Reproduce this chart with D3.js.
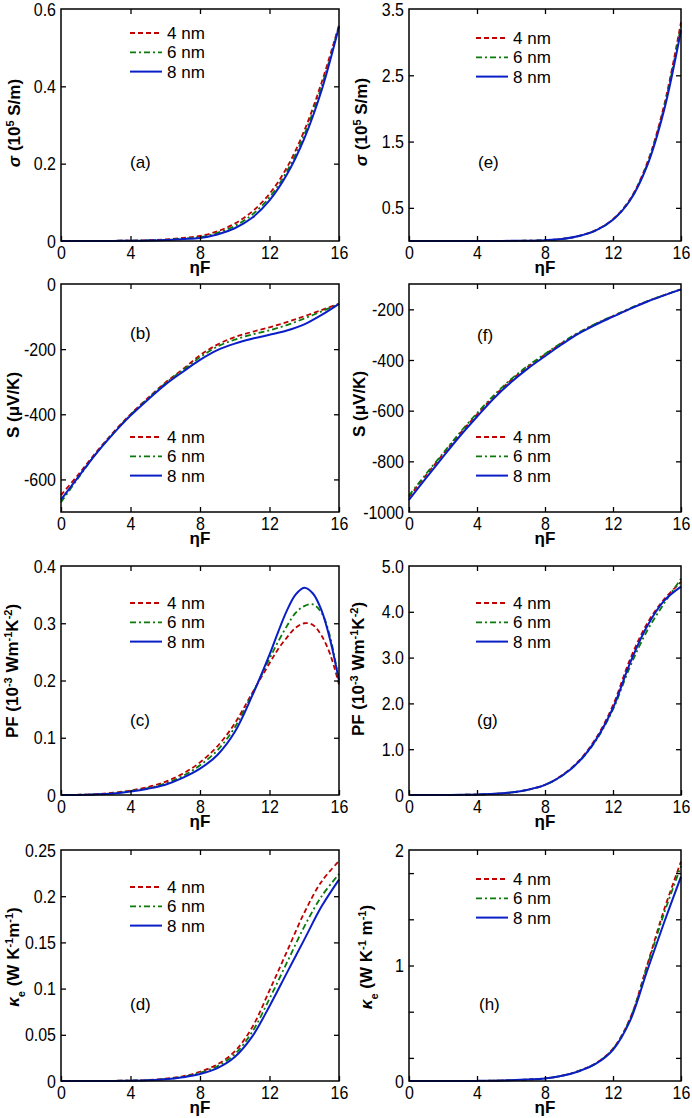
<!DOCTYPE html>
<html>
<head>
<meta charset="utf-8">
<script src="https://cdn.jsdelivr.net/npm/d3@7"></script>
<style>
  body { margin: 0; background: #fff; }
  text { font-family: 'Liberation Sans', Arial, sans-serif; }
</style>
</head>
<body>
<svg id="chart" width="692" height="1118"></svg>
<script>
'use strict';
// x values (reduced Fermi energy)
var eta = [0, 1, 2, 3, 4, 5, 6, 7, 8, 9, 10, 11, 12, 13, 14, 15, 16];
var etaPF = [0, 1, 2, 3, 4, 5, 6, 7, 8, 9, 10, 11, 12, 12.5, 13, 13.5, 14, 14.5, 15, 15.5, 16];
var etaTicks = [0, 4, 8, 12, 16];
var widths = ['4 nm', '6 nm', '8 nm'];

// (a) sigma, 10^5 S/m
var sigA4 = [0, 0, 0.0002, 0.0005, 0.001, 0.002, 0.004, 0.008, 0.013, 0.025, 0.045, 0.076, 0.122, 0.19, 0.285, 0.41, 0.558];
var sigA6 = [0, 0, 0.0001, 0.0004, 0.0008, 0.0016, 0.003, 0.006, 0.010, 0.021, 0.039, 0.068, 0.113, 0.18, 0.275, 0.4, 0.556];
var sigA8 = [0, 0, 0.0001, 0.0003, 0.0006, 0.0012, 0.0025, 0.005, 0.008, 0.017, 0.033, 0.06, 0.105, 0.172, 0.265, 0.39, 0.554];
// (e) sigma
var sigE4 = [0, 0, 0, 0, 0.0005, 0.001, 0.002, 0.005, 0.013, 0.032, 0.078, 0.165, 0.33, 0.63, 1.17, 2.04, 3.3];
var sigE6 = [0, 0, 0, 0, 0.0005, 0.001, 0.002, 0.005, 0.012, 0.031, 0.076, 0.162, 0.325, 0.62, 1.15, 2.01, 3.24];
var sigE8 = [0, 0, 0, 0, 0.0005, 0.001, 0.002, 0.004, 0.012, 0.03, 0.075, 0.16, 0.32, 0.61, 1.13, 1.97, 3.18];
// (b) Seebeck, uV/K
var sB4 = [-648, -585, -518, -456, -400, -350, -303, -262, -219, -186, -163, -147, -133, -117, -99, -80, -61];
var sB6 = [-670, -595, -522, -459, -402, -352, -305, -265, -225, -192, -171, -155, -142, -126, -106, -84, -61];
var sB8 = [-662, -592, -522, -460, -404, -355, -309, -270, -233, -203, -183, -168, -156, -143, -124, -95, -61];
// (f) Seebeck
var sF4 = [-940, -855, -772, -690, -615, -543, -480, -426, -378, -333, -292, -257, -227, -197, -169, -144, -121];
var sF6 = [-935, -850, -768, -686, -610, -539, -476, -423, -376, -331, -291, -256, -226, -196, -168, -144, -121];
var sF8 = [-952, -866, -782, -700, -624, -551, -488, -433, -385, -338, -295, -260, -229, -198, -170, -145, -121];
// (c) power factor, 10^-3 W m^-1 K^-2 (on etaPF)
var pfC4 = [0, 0.0004, 0.0015, 0.004, 0.008, 0.014, 0.023, 0.037, 0.057, 0.085, 0.125, 0.178, 0.23, 0.255, 0.275, 0.292, 0.3, 0.297, 0.278, 0.245, 0.193];
var pfC6 = [0, 0.0003, 0.0012, 0.003, 0.007, 0.012, 0.02, 0.033, 0.052, 0.078, 0.118, 0.176, 0.238, 0.268, 0.295, 0.318, 0.33, 0.333, 0.318, 0.275, 0.196];
var pfC8 = [0, 0.0002, 0.001, 0.0025, 0.006, 0.011, 0.018, 0.03, 0.046, 0.07, 0.11, 0.173, 0.245, 0.285, 0.322, 0.35, 0.362, 0.352, 0.322, 0.27, 0.2];
// (g) power factor
var pfG4 = [0, 0, 0.002, 0.004, 0.01, 0.025, 0.055, 0.115, 0.22, 0.43, 0.75, 1.24, 1.96, 2.96, 3.74, 4.27, 4.65];
var pfG6 = [0, 0, 0.002, 0.004, 0.01, 0.025, 0.055, 0.115, 0.22, 0.42, 0.73, 1.19, 1.87, 2.8, 3.58, 4.18, 4.72];
var pfG8 = [0, 0, 0.002, 0.004, 0.01, 0.025, 0.055, 0.115, 0.22, 0.42, 0.73, 1.21, 1.9, 2.88, 3.68, 4.24, 4.55];
// (d) electronic thermal conductivity, W K^-1 m^-1
var keD4 = [0, 0, 0, 0.0002, 0.0005, 0.001, 0.0025, 0.005, 0.01, 0.018, 0.032, 0.058, 0.098, 0.14, 0.182, 0.216, 0.238];
var keD6 = [0, 0, 0, 0.0002, 0.0004, 0.0009, 0.002, 0.0045, 0.009, 0.016, 0.029, 0.053, 0.089, 0.128, 0.167, 0.2, 0.224];
var keD8 = [0, 0, 0, 0.0001, 0.0003, 0.0008, 0.0018, 0.004, 0.0075, 0.014, 0.026, 0.048, 0.081, 0.117, 0.153, 0.189, 0.218];
// (h) electronic thermal conductivity
var keH4 = [0, 0, 0, 0, 0.001, 0.003, 0.007, 0.013, 0.022, 0.046, 0.088, 0.155, 0.28, 0.54, 1.0, 1.48, 1.9];
var keH6 = [0, 0, 0, 0, 0.001, 0.003, 0.007, 0.013, 0.022, 0.045, 0.087, 0.153, 0.277, 0.535, 0.99, 1.45, 1.86];
var keH8 = [0, 0, 0, 0, 0.001, 0.003, 0.007, 0.013, 0.022, 0.045, 0.085, 0.15, 0.27, 0.52, 0.95, 1.37, 1.77];

// y tick labels / tick marks
var labA = [0, 0.2, 0.4, 0.6], tickA = [0.2, 0.4];
var labE = [0.5, 1.5, 2.5, 3.5], tickE = [0.5, 1.5, 2.5];
var labB = [-600, -400, -200, 0], tickB = [-600, -400, -200];
var labF = [-1000, -800, -600, -400, -200], tickF = [-800, -600, -400, -200];
var labC = [0, 0.1, 0.2, 0.3, 0.4], tickC = [0.1, 0.2, 0.3];
var labG = [0, 1, 2, 3, 4, 5], tickG = [1, 2, 3, 4];
var labD = [0, 0.05, 0.1, 0.15, 0.2, 0.25], tickD = [0.05, 0.1, 0.15, 0.2];
var labH = [0, 1, 2], tickH = [0.2, 0.6, 1, 1.4, 1.8];

var COLORS = ['#c00000', '#0a7a0a', '#0a1ec8'];
var DASH = ['5,3', '6,3,2,3', null];
var LW = [1.8, 1.8, 2];

var cols = [[61, 339], [409, 681]];
var rows = [[9, 241], [284, 512], [566, 795], [850, 1081]];

var f1 = d => d === 0 ? '0' : d3.format('.1f')(d);
var fPlain = d => String(d);

var panels = [
  {tag: '(a)', c: 0, r: 0, x: eta, ys: [sigA4, sigA6, sigA8], dom: [0, 0.6], lab: labA, tk: tickA, fmt: f1,
    title: 'sigma', tx: 20, ty: 123, leg: [130, 33], tg: [130, 162]},
  {tag: '(e)', c: 1, r: 0, x: eta, ys: [sigE4, sigE6, sigE8], dom: [0, 3.5], lab: labE, tk: tickE, fmt: f1,
    title: 'sigma', tx: 367, ty: 122, leg: [476, 38], tg: [478, 162]},
  {tag: '(b)', c: 0, r: 1, x: eta, ys: [sB4, sB6, sB8], dom: [-700, 0], lab: labB, tk: tickB, fmt: fPlain,
    title: 'S', tx: 19, ty: 405, leg: [130, 437], tg: [130, 333]},
  {tag: '(f)', c: 1, r: 1, x: eta, ys: [sF4, sF6, sF8], dom: [-1000, -100], lab: labF, tk: tickF, fmt: fPlain,
    title: 'S', tx: 365, ty: 404, leg: [476, 437], tg: [477, 335]},
  {tag: '(c)', c: 0, r: 2, x: etaPF, ys: [pfC4, pfC6, pfC8], dom: [0, 0.4], lab: labC, tk: tickC, fmt: f1,
    title: 'pf', tx: 18, ty: 671, leg: [130, 603], tg: [130, 720]},
  {tag: '(g)', c: 1, r: 2, x: eta, ys: [pfG4, pfG6, pfG8], dom: [0, 5], lab: labG, tk: tickG, fmt: f1,
    title: 'pf', tx: 364, ty: 669, leg: [476, 603], tg: [477, 720]},
  {tag: '(d)', c: 0, r: 3, x: eta, ys: [keD4, keD6, keD8], dom: [0, 0.25], lab: labD, tk: tickD, fmt: fPlain,
    title: 'ke', tx: 19, ty: 957, leg: [130, 887], tg: [130, 1004]},
  {tag: '(h)', c: 1, r: 3, x: eta, ys: [keH4, keH6, keH8], dom: [0, 2], lab: labH, tk: tickH, fmt: fPlain,
    title: 'ke2', tx: 372, ty: 957, leg: [476, 879], tg: [479, 1004]}
];

var TITLES = {
  sigma: [['σ', 'i'], [' (10'], ['5', 'sup'], [' S/m)']],
  S: [['S (μV/K)']],
  pf: [['PF (10'], ['-3', 'sup'], [' Wm'], ['-1', 'sup'], ['K'], ['-2', 'sup'], [')']],
  ke: [['κ', 'i'], ['e', 'sub'], [' (W K'], ['-1', 'sup'], ['m'], ['-1', 'sup'], [')']],
  ke2: [['κ', 'i'], ['e', 'sub'], [' (W K'], ['-1', 'sup'], [' m'], ['-1', 'sup'], [')']]
};

var svg = d3.select('#chart');

function styleAxis(g) {
  g.select('.domain').remove();
  g.attr('font-size', 16).attr('font-family', "'Liberation Sans', Arial, sans-serif");
  g.selectAll('.tick line').attr('stroke', '#000').attr('stroke-width', 1.3);
  // the source figure's lettering is a little taller than wide
  g.selectAll('.tick text').attr('fill', '#000').attr('transform', 'scale(1,1.18)');
}

panels.forEach(p => {
  var x0 = cols[p.c][0], x1 = cols[p.c][1];
  var y0 = rows[p.r][0], y1 = rows[p.r][1];
  var x = d3.scaleLinear().domain([0, 16]).range([x0, x1]);
  var y = d3.scaleLinear().domain(p.dom).range([y1, y0]);
  var g = svg.append('g');

  // curves
  var line = d3.line().curve(d3.curveCatmullRom.alpha(0.5));
  p.ys.forEach((vals, i) => {
    g.append('path')
      .attr('d', line(vals.map((v, k) => [x(p.x[k]), y(v)])))
      .attr('fill', 'none')
      .attr('stroke', COLORS[i])
      .attr('stroke-width', LW[i])
      .attr('stroke-dasharray', DASH[i]);
  });

  // axes
  g.append('g').attr('transform', `translate(0,${y1})`)
    .call(d3.axisBottom(x).tickValues(etaTicks).tickSizeInner(-5).tickSizeOuter(0).tickPadding(4))
    .call(styleAxis);
  g.append('g').attr('transform', `translate(0,${y0})`)
    .call(d3.axisTop(x).tickValues([4, 8, 12]).tickSizeInner(-5).tickSizeOuter(0).tickFormat(''))
    .call(styleAxis);
  g.append('g').attr('transform', `translate(${x0},0)`)
    .call(d3.axisLeft(y).tickValues(p.lab).tickSize(0).tickPadding(5).tickFormat(p.fmt))
    .call(styleAxis);
  g.append('g').attr('transform', `translate(${x0},0)`)
    .call(d3.axisLeft(y).tickValues(p.tk).tickSizeInner(-5).tickSizeOuter(0).tickFormat(''))
    .call(styleAxis);
  g.append('g').attr('transform', `translate(${x1},0)`)
    .call(d3.axisRight(y).tickValues(p.tk).tickSizeInner(-5).tickSizeOuter(0).tickFormat(''))
    .call(styleAxis);

  // frame
  g.append('rect')
    .attr('x', x0).attr('y', y0)
    .attr('width', x1 - x0).attr('height', y1 - y0)
    .attr('fill', 'none').attr('stroke', '#000').attr('stroke-width', 1.5);

  // x title
  var xt = g.append('text')
    .attr('x', (x0 + x1) / 2).attr('y', y1 + 32)
    .attr('text-anchor', 'middle').attr('font-size', 17).attr('font-weight', 'bold');
  xt.append('tspan').text('η');
  xt.append('tspan').text('F');

  // y title
  var yt = g.append('text')
    .attr('transform', `translate(${p.tx},${p.ty}) rotate(-90)`)
    .attr('text-anchor', 'middle').attr('font-size', 17).attr('font-weight', 'bold');
  TITLES[p.title].forEach(part => {
    var s = yt.append('tspan').text(part[0]);
    if (part[1] === 'i') s.attr('font-style', 'italic');
    if (part[1] === 'sup') s.attr('baseline-shift', 'super').attr('font-size', 11);
    if (part[1] === 'sub') s.attr('baseline-shift', 'sub').attr('font-size', 11);
  });

  // legend
  widths.forEach((w, i) => {
    var ly = p.leg[1] + i * 19.3;
    g.append('line')
      .attr('x1', p.leg[0]).attr('x2', p.leg[0] + 32)
      .attr('y1', ly).attr('y2', ly)
      .attr('stroke', COLORS[i]).attr('stroke-width', LW[i])
      .attr('stroke-dasharray', DASH[i]);
    g.append('text')
      .attr('x', p.leg[0] + 37).attr('y', ly).attr('dy', '0.35em')
      .attr('font-size', 17).text(w);
  });

  // panel tag
  g.append('text')
    .attr('x', p.tg[0]).attr('y', p.tg[1]).attr('dy', '0.35em')
    .attr('font-size', 17).text(p.tag);
});
</script>
</body>
</html>
